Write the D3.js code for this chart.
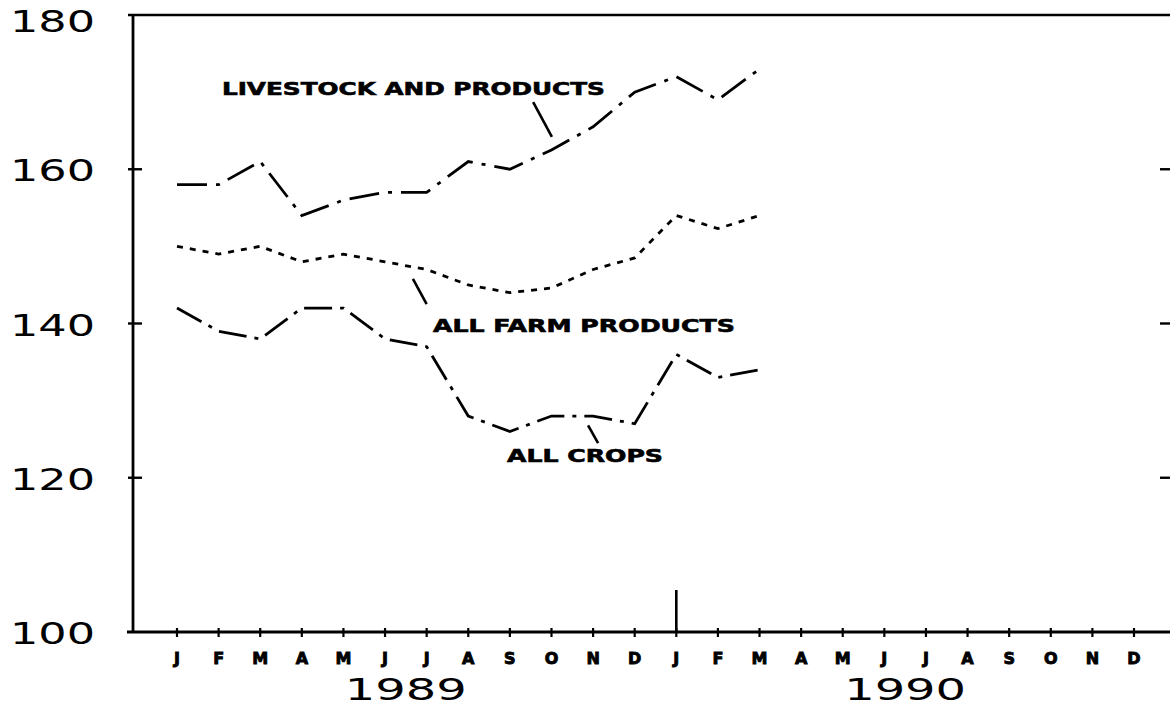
<!DOCTYPE html>
<html>
<head>
<meta charset="utf-8">
<script src="https://cdn.jsdelivr.net/npm/d3@7"></script>
<style>
  body { margin: 0; background: #fff; }
  text { font-family: "DejaVu Sans", sans-serif; fill: #000; }
</style>
</head>
<body>
<script>
/* DATA */
var months = ["J","F","M","A","M","J","J","A","S","O","N","D",
              "J","F","M","A","M","J","J","A","S","O","N","D"];
var years = ["1989", "1990"];
var yTicks = [100, 120, 140, 160, 180];

// index numbers, Jan 1989 .. Mar 1990
var livestock = [158, 158, 161, 154, 156, 157, 157, 161, 160, 162.5, 165.5, 170, 172, 169, 173];
var farm      = [150, 149, 150, 148, 149, 148, 147, 145, 144, 144.6, 147, 148.5, 154, 152.3, 154];
var crops     = [142, 139, 138, 142, 142, 138, 137, 128, 126, 128, 128, 127, 136, 133, 134];

/* GLOBALS */
var width = 1170, height = 708;

function main() {
  var svg = d3.select('body').append('svg')
    .attr('width', width)
    .attr('height', height);

  // month index -> x
  var x = d3.scaleLinear()
    .domain([0, 23])
    .range([177, 1134]);
  var y = d3.scaleLinear()
    .domain([100, 180])
    .range([632, 15]);

  var left = 133, right = 1172;

  // frame: left axis, top line, bottom axis
  svg.append('line').attr('x1', left).attr('x2', left)
    .attr('y1', y(180) - 1).attr('y2', y(100) + 1)
    .attr('stroke', '#000').attr('stroke-width', 2.8);
  svg.append('line').attr('x1', left - 5).attr('x2', right)
    .attr('y1', y(180)).attr('y2', y(180))
    .attr('stroke', '#000').attr('stroke-width', 2.4);
  svg.append('line').attr('x1', left - 6).attr('x2', right)
    .attr('y1', y(100)).attr('y2', y(100))
    .attr('stroke', '#000').attr('stroke-width', 2.8);

  // left ticks (crosses)
  svg.selectAll('.ltick')
    .data(yTicks.filter(function(d){ return d > 100 && d < 180; }))
    .enter().append('line')
    .attr('x1', left - 5).attr('x2', left + 9)
    .attr('y1', function(d){ return y(d); })
    .attr('y2', function(d){ return y(d); })
    .attr('stroke', '#000').attr('stroke-width', 2.4);

  // right ticks
  svg.selectAll('.rtick')
    .data(yTicks.filter(function(d){ return d > 100 && d < 180; }))
    .enter().append('line')
    .attr('x1', 1160).attr('x2', right)
    .attr('y1', function(d){ return y(d); })
    .attr('y2', function(d){ return y(d); })
    .attr('stroke', '#000').attr('stroke-width', 2.4);

  svg.selectAll('.ylab')
    .data(yTicks)
    .enter().append('text')
    .attr('x', 10)
    .attr('y', function(d){ return Math.max(y(d) + 12, 32); })
    .attr('font-size', 30)
    .attr('textLength', 85)
    .attr('lengthAdjust', 'spacingAndGlyphs')
    .text(function(d){ return d; });

  // bottom ticks
  var mt = svg.append('g');
  mt.selectAll('line.v')
    .data(months)
    .enter().append('line')
    .attr('x1', function(d, i){ return x(i); })
    .attr('x2', function(d, i){ return x(i); })
    .attr('y1', y(100) - 4).attr('y2', y(100) + 5)
    .attr('stroke', '#000').attr('stroke-width', 2.2);

  // year separator
  svg.append('line')
    .attr('x1', x(12)).attr('x2', x(12))
    .attr('y1', 590).attr('y2', y(100))
    .attr('stroke', '#000').attr('stroke-width', 2.6);

  mt.selectAll('text')
    .data(months)
    .enter().append('text')
    .attr('x', function(d, i){ return x(i); })
    .attr('y', 664)
    .attr('text-anchor', 'middle')
    .attr('font-size', 16)
    .attr('font-weight', 'bold')
    .attr('stroke', '#000').attr('stroke-width', 0.9)
    .text(function(d){ return d; });

  svg.selectAll('.year')
    .data(years)
    .enter().append('text')
    .attr('x', function(d, i){ return (x(i * 12) + x(i * 12 + 11)) / 2; })
    .attr('y', 700)
    .attr('text-anchor', 'middle')
    .attr('font-size', 31)
    .attr('textLength', 122)
    .attr('lengthAdjust', 'spacingAndGlyphs')
    .text(function(d){ return d; });

  // series
  var line = d3.line()
    .x(function(d, i){ return x(i); })
    .y(function(d){ return y(d); });

  var series = [
    { values: livestock, dash: '30,9,4,9' },
    { values: farm,      dash: '6,7' },
    { values: crops,     dash: '28,8,4,8' }
  ];
  svg.selectAll('.series')
    .data(series)
    .enter().append('path')
    .attr('d', function(d){ return line(d.values); })
    .attr('fill', 'none')
    .attr('stroke', '#000')
    .attr('stroke-width', 2.8)
    .attr('stroke-dasharray', function(d){ return d.dash; });

  // labels with leader lines (month index, value)
  var notes = [
    { text: 'LIVESTOCK AND PRODUCTS', tx: 1.08, ty: 169.6, len: 383,
      l: [[8.56, 168.7], [9.01, 164.2]] },
    { text: 'ALL FARM PRODUCTS', tx: 6.15, ty: 138.9, len: 302,
      l: [[5.67, 145.8], [6.0, 142.5]] },
    { text: 'ALL CROPS', tx: 7.93, ty: 122, len: 156,
      l: [[9.88, 126.8], [10.12, 124.5]] }
  ];
  svg.selectAll('.note')
    .data(notes)
    .enter().append('text')
    .attr('x', function(d){ return x(d.tx); })
    .attr('y', function(d){ return y(d.ty); })
    .attr('font-size', 17)
    .attr('font-weight', 'bold')
    .attr('stroke', '#000').attr('stroke-width', 0.6)
    .attr('textLength', function(d){ return d.len; })
    .attr('lengthAdjust', 'spacingAndGlyphs')
    .text(function(d){ return d.text; });

  svg.selectAll('.leader')
    .data(notes)
    .enter().append('line')
    .attr('x1', function(d){ return x(d.l[0][0]); })
    .attr('y1', function(d){ return y(d.l[0][1]); })
    .attr('x2', function(d){ return x(d.l[1][0]); })
    .attr('y2', function(d){ return y(d.l[1][1]); })
    .attr('stroke', '#000').attr('stroke-width', 2.6);
}

window.addEventListener('load', main);
</script>
</body>
</html>
